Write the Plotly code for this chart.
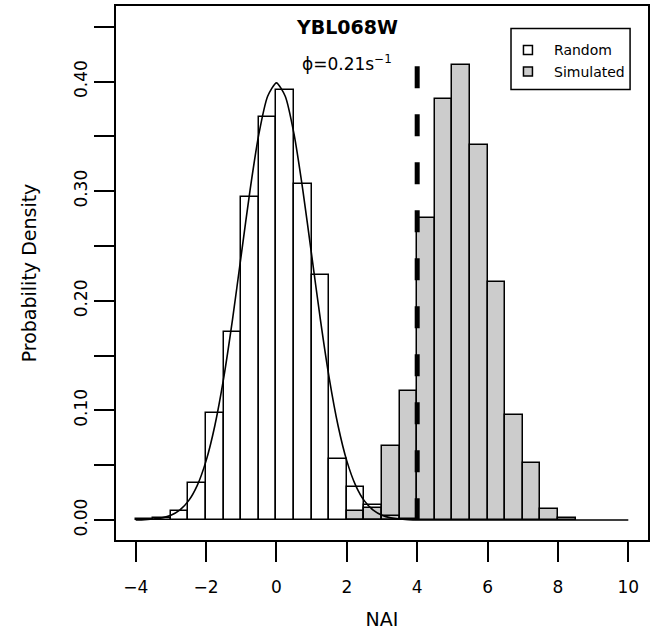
import plotly.graph_objects as go

# ---- data ----
bin_width = 0.5
random_centers = [-3.75, -3.25, -2.75, -2.25, -1.75, -1.25, -0.75, -0.25,
                  0.25, 0.75, 1.25, 1.75, 2.25, 2.75, 3.25, 3.75]
random_density = [0.001, 0.002, 0.008, 0.034, 0.098, 0.172, 0.295, 0.368,
                  0.392, 0.307, 0.224, 0.056, 0.030, 0.014, 0.004, 0.001]

sim_centers = [2.25, 2.75, 3.25, 3.75, 4.25, 4.75, 5.25, 5.75, 6.25, 6.75,
               7.25, 7.75, 8.25]
sim_density = [0.008, 0.011, 0.068, 0.118, 0.276, 0.384, 0.415, 0.342,
               0.217, 0.096, 0.052, 0.010, 0.002]

curve_x = [-4.0, -3.75, -3.5, -3.25, -3.0, -2.75, -2.5, -2.25, -2.0, -1.75,
           -1.5, -1.25, -1.0, -0.75, -0.5, -0.25, 0.0, 0.25, 0.5, 0.75, 1.0,
           1.25, 1.5, 1.75, 2.0, 2.25, 2.5, 2.75, 3.0, 3.25, 3.5, 3.75, 4.0,
           5.0, 6.0, 7.0, 8.0, 9.0, 10.0]
curve_y = [0.0001, 0.0004, 0.0009, 0.0020, 0.0044, 0.0091, 0.0175, 0.0317,
           0.0540, 0.0863, 0.1295, 0.1826, 0.2420, 0.3011, 0.3521, 0.3867,
           0.3989, 0.3867, 0.3521, 0.3011, 0.2420, 0.1826, 0.1295, 0.0863,
           0.0540, 0.0317, 0.0175, 0.0091, 0.0044, 0.0020, 0.0009, 0.0004,
           0.0001, 0.0, 0.0, 0.0, 0.0, 0.0, 0.0]

threshold_x = [4.0, 4.0]
threshold_y = [0.414, 0.0]

x_ticks = [-4, -2, 0, 2, 4, 6, 8, 10]
x_ticktext = ["−4", "−2", "0", "2", "4", "6", "8", "10"]

legend_names = ["Random", "Simulated"]
legend_fills = ["white", "#cccccc"]

title_text = "<b>YBL068W</b>"
subtitle_text = "ϕ=0.21s<sup>−1</sup>"
x_title = "NAI"
y_title = "Probability Density"

FONT = "DejaVu Sans, Liberation Sans, Arial, sans-serif"

fig = go.Figure()

fig.add_trace(go.Bar(
    x=sim_centers, y=sim_density, width=bin_width, name="Simulated",
    marker=dict(color="#cccccc", line=dict(color="black", width=1.5)),
    showlegend=False, hoverinfo="skip"))

fig.add_trace(go.Bar(
    x=random_centers, y=random_density, width=bin_width, name="Random",
    marker=dict(color="rgba(255,255,255,0)", line=dict(color="black", width=1.5)),
    showlegend=False, hoverinfo="skip"))

fig.add_trace(go.Scatter(
    x=curve_x, y=curve_y, mode="lines", showlegend=False,
    line=dict(color="black", width=1.6, shape="spline", smoothing=0.6),
    hoverinfo="skip"))

fig.add_trace(go.Scatter(
    x=threshold_x, y=threshold_y, mode="lines", showlegend=False,
    line=dict(color="black", width=5, dash="22px,26px"),
    hoverinfo="skip"))

# titles inside the plot
fig.add_annotation(x=2, y=0.450, xref="x", yref="y", text=title_text,
                   showarrow=False, font=dict(family=FONT, size=19, color="black"))
fig.add_annotation(x=2, y=0.417, xref="x", yref="y", text=subtitle_text,
                   showarrow=False, font=dict(family=FONT, size=17, color="black"))

# legend (boxed, like the reference)
fig.add_shape(type="rect", xref="paper", yref="paper",
              x0=0.7425, x1=0.9663, y0=0.8437, y1=0.9579,
              line=dict(color="black", width=1.5), fillcolor="white", layer="above")
legend_y = [0.9178, 0.8772]
for name, fill, ly in zip(legend_names, legend_fills, legend_y):
    fig.add_shape(type="rect", xref="paper", yref="paper",
                  x0=0.7659, x1=0.7828, y0=ly - 0.0084, y1=ly + 0.0084,
                  line=dict(color="black", width=1.5), fillcolor=fill, layer="above")
    fig.add_annotation(x=0.8195, y=ly, xref="paper", yref="paper",
                       xanchor="left", yanchor="middle", text=name, showarrow=False,
                       font=dict(family=FONT, size=14, color="black"))

fig.update_layout(
    width=654, height=634,
    margin=dict(l=116, r=4, t=5, b=94),
    paper_bgcolor="white", plot_bgcolor="white",
    barmode="overlay", bargap=0,
    font=dict(family=FONT, size=17, color="black"),
    showlegend=False,
)

fig.update_xaxes(
    range=[-4.56, 10.56], tickmode="array", tickvals=x_ticks,
    ticktext=x_ticktext,
    title=dict(text=x_title, standoff=17, font=dict(family=FONT, size=19, color="black")),
    showline=True, mirror=True, linecolor="black", linewidth=1.5,
    ticks="outside", ticklen=20, tickwidth=1.5, tickcolor="black",
    showgrid=False, zeroline=False, ticklabelstandoff=11,
    tickfont=dict(family=FONT, size=17, color="black"))

fig.update_yaxes(
    range=[-0.0182, 0.469], tickmode="linear", tick0=0, dtick=0.1,
    tickformat=".2f", tickangle=-90,
    title=dict(text=y_title, standoff=30, font=dict(family=FONT, size=19, color="black")),
    minor=dict(tickmode="linear", tick0=0, dtick=0.05, ticks="outside",
               ticklen=20, tickwidth=1.5, tickcolor="black", showgrid=False),
    showline=True, mirror=True, linecolor="black", linewidth=1.5,
    ticks="outside", ticklen=20, tickwidth=1.5, tickcolor="black",
    showgrid=False, zeroline=False, ticklabelstandoff=0,
    tickfont=dict(family=FONT, size=17, color="black"))

fig.write_html("out.html")
